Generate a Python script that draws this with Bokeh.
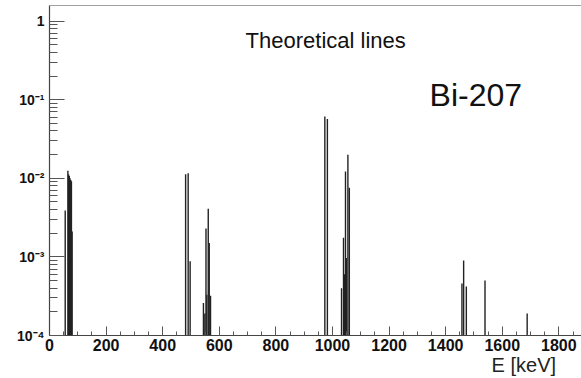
from bokeh.plotting import figure
from bokeh.models import FixedTicker, CustomJSTickFormatter, Label, Span, ColumnDataSource
from bokeh.embed import file_html
from bokeh.resources import INLINE

# Line energies (keV) and relative intensities
energy = [55.5, 65, 67.5, 70, 72.5, 75, 77.5, 80,
          481, 490, 497, 544, 549, 553, 556, 561, 564.5, 569,
          973, 982, 1032, 1039, 1042, 1046, 1049, 1054.5, 1059.5,
          1457.5, 1463.5, 1473, 1539, 1688]
intensity = [3.9e-3, 1.25e-2, 1.12e-2, 1.07e-2, 1.0e-2, 9.5e-3, 9.2e-3, 2.1e-3,
             1.13e-2, 1.16e-2, 8.8e-4, 2.6e-4, 1.9e-4, 2.3e-3, 3.3e-4, 4.1e-3, 1.5e-3, 3.2e-4,
             6.1e-2, 5.7e-2, 4.0e-4, 1.75e-3, 6.0e-4, 1.22e-2, 9.7e-4, 2.0e-2, 7.6e-3,
             4.6e-4, 9.0e-4, 4.2e-4, 5.0e-4, 1.9e-4]

X_TICKS = [0, 200, 400, 600, 800, 1000, 1200, 1400, 1600, 1800]
X_MINOR = list(range(0, 1900, 50))
Y_TICKS = [1e-4, 1e-3, 1e-2, 1e-1, 1]
Y_MINOR = [m * 10.0 ** k for k in range(-4, 1) for m in range(2, 10)]

X_MIN, X_MAX = 0, 1880
Y_MIN, Y_MAX = 1e-4, 1.58

src = ColumnDataSource(dict(e=energy, i=intensity, b=[Y_MIN] * len(energy)))

p = figure(width=581, height=378, x_range=(X_MIN, X_MAX), y_range=(Y_MIN, Y_MAX),
           y_axis_type="log", output_backend="svg", toolbar_location=None,
           min_border_left=49, min_border_right=0, min_border_top=5, min_border_bottom=43)
p.outline_line_color = None
p.xgrid.visible = False
p.ygrid.visible = False
p.background_fill_color = "white"
p.border_fill_color = "white"

p.segment(x0="e", y0="b", x1="e", y1="i", source=src, line_color="#222", line_width=1.4)

axcol = "#444"
p.xaxis.ticker = FixedTicker(ticks=X_TICKS, minor_ticks=X_MINOR)
p.yaxis.ticker = FixedTicker(ticks=Y_TICKS, minor_ticks=Y_MINOR)
for ax in (p.xaxis[0], p.yaxis[0]):
    ax.axis_line_color = axcol
    ax.axis_line_width = 1.2
    ax.major_tick_line_color = "#555"
    ax.minor_tick_line_color = "#555"
    ax.major_tick_out = 0
    ax.minor_tick_out = 0
    ax.major_label_text_font = "Liberation Sans"
    ax.major_label_text_font_style = "bold"
    ax.major_label_text_color = "#111"
p.xaxis.major_tick_in = 9
p.xaxis.minor_tick_in = 4
p.yaxis.major_tick_in = 15
p.yaxis.minor_tick_in = 8
p.xaxis.major_label_text_font_size = "16px"
p.yaxis.major_label_text_font_size = "14px"
p.xaxis.major_label_standoff = 3
p.yaxis.major_label_standoff = 5
p.yaxis.formatter = CustomJSTickFormatter(code="""
const e = Math.round(Math.log10(tick));
if (e === 0) return "1";
const sup = {"-": "\u207b", "0": "\u2070", "1": "\u00b9", "2": "\u00b2", "3": "\u00b3", "4": "\u2074"};
return "10" + String(e).split("").map(c => sup[c]).join("");
""")

# x axis title: centred label padded on the left so it sits at the right end of the axis
xax = p.xaxis[0]
xax.axis_label = "\u00a0" * 75 + "E [keV]"
xax.axis_label_text_font = "Liberation Sans"
xax.axis_label_text_font_style = "normal"
xax.axis_label_text_font_size = "20px"
xax.axis_label_text_color = "#222"
xax.axis_label_standoff = 0

p.add_layout(Span(location=Y_MAX, dimension="width", line_color=axcol, line_width=1.2))

p.add_layout(Label(x=976, y=0.575, text="Theoretical lines", text_align="center",
                   text_baseline="alphabetic", text_font="Liberation Sans",
                   text_font_size="22px", text_color="#111"))
p.add_layout(Label(x=1343, y=0.114, text="Bi-207", text_align="left",
                   text_baseline="alphabetic", text_font="Liberation Sans",
                   text_font_size="32px", text_color="#111"))

open("out.html", "w").write(file_html(p, INLINE))
